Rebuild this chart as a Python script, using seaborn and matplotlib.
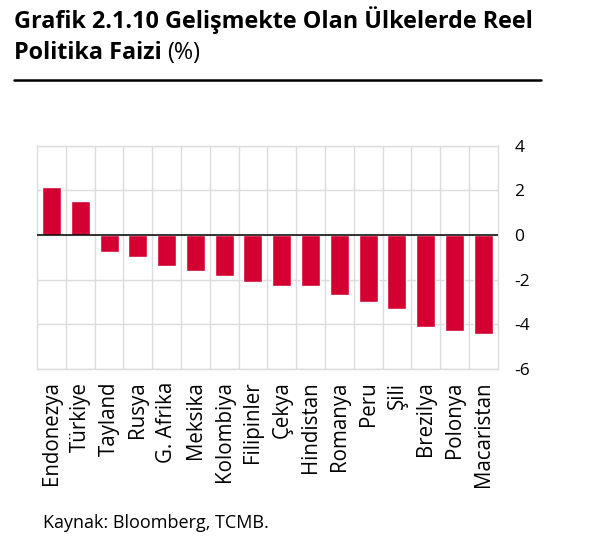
import numpy as np
import pandas as pd
import matplotlib
matplotlib.use('Agg')
import matplotlib.pyplot as plt
import seaborn as sns
from matplotlib.lines import Line2D

#chart data
countries = ['Endonezya', 'Türkiye', 'Tayland', 'Rusya', 'G. Afrika', 'Meksika',
             'Kolombiya', 'Filipinler', 'Çekya', 'Hindistan', 'Romanya', 'Peru',
             'Şili', 'Brezilya', 'Polonya', 'Macaristan']
rates = [2.17, 1.51, -0.75, -0.99, -1.39, -1.63, -1.84, -2.09, -2.29, -2.29,
         -2.69, -3.0, -3.3, -4.11, -4.3, -4.41]
y_ticks = [4, 2, 0, -2, -4, -6]

df = pd.DataFrame({'country': countries, 'rate': rates})

sns.set_style('white')
plt.rcParams['font.family'] = ['Open Sans', 'DejaVu Sans']
plt.rcParams['axes.unicode_minus'] = False
plt.rcParams['text.color'] = 'black'
plt.rcParams['xtick.color'] = 'black'
plt.rcParams['ytick.color'] = 'black'

fig = plt.figure(figsize=(6.07, 5.38), dpi=100)
ax = fig.add_axes([0.061, 0.314, 0.759, 0.415])

sns.barplot(data=df, x='country', y='rate', color='#D50032', width=0.66,
            saturation=1, ax=ax, zorder=3)

#grid lines
for k in range(1, len(countries)):
    ax.axvline(k - 0.5, color='#dcdcdc', lw=1, zorder=1)
for t in y_ticks:
    ax.axhline(t, color='#dcdcdc', lw=1, zorder=1)
ax.axhline(0, color='black', lw=1.1, zorder=4)

ax.set_xlim(-0.5, len(countries) - 0.5)
ax.set_ylim(-6, 4)
ax.set_yticks(y_ticks)
ax.yaxis.tick_right()
ax.tick_params(axis='y', length=0, pad=12, labelsize=12.5)
ax.tick_params(axis='x', length=0, pad=9, labelsize=14.8, rotation=90)
ax.set_xlabel('')
ax.set_ylabel('')
for s in ax.spines.values():
    s.set_color('#dcdcdc')
    s.set_linewidth(1)

#title
t1 = fig.text(14/607, 1 - 28/538, 'Grafik 2.1.10 Gelişmekte Olan Ülkelerde Reel',
              fontsize=16.8, fontweight='bold', va='baseline', ha='left')
t2 = fig.text(14/607, 1 - 59/538, 'Politika Faizi',
              fontsize=16.8, fontweight='bold', va='baseline', ha='left')
fig.canvas.draw()
ext = t2.get_window_extent()
fig.text(ext.x1 / fig.bbox.width + 5/607, 1 - 59/538, '(%)',
         fontsize=16.8, va='baseline', ha='left')
fig.add_artist(Line2D([14/607, 541/607], [1 - 80/538, 1 - 80/538],
                      color='black', lw=1.8, transform=fig.transFigure))

#source
fig.text(43/607, 1 - 528/538, 'Kaynak: Bloomberg, TCMB.', fontsize=13,
         va='baseline', ha='left')

plt.savefig('out.png', dpi=100)
